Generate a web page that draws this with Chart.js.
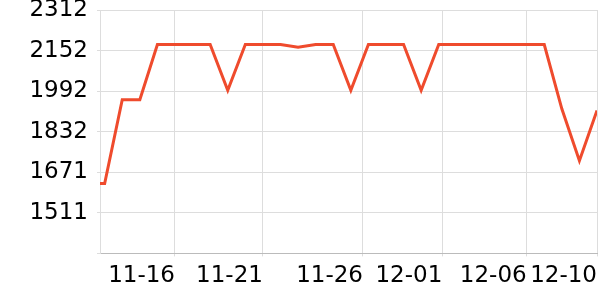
<!DOCTYPE html>
<html>
<head>
<meta charset="utf-8">
<script src="https://cdn.jsdelivr.net/npm/chart.js@4/dist/chart.umd.min.js"></script>
<style>
  html, body { margin: 0; padding: 0; background: #ffffff; }
  #wrap { width: 600px; height: 300px; }
</style>
</head>
<body>
<div id="wrap"><canvas id="c" width="600" height="300"></canvas></div>
<script>
// Dates (one per day) and the series values
const dates = ['11-11','11-12','11-13','11-14','11-15','11-16','11-17','11-18','11-19','11-20',
               '11-21','11-22','11-23','11-24','11-25','11-26','11-27','11-28','11-29','11-30',
               '12-01','12-02','12-03','12-04','12-05','12-06','12-07','12-08','12-09','12-10'];
const values = [1627, 1627, 1958, 1958, 2176, 2176, 2176, 2176, 1995, 2176,
                2176, 2176, 2165, 2176, 2176, 1995, 2176, 2176, 2176, 1995,
                2176, 2176, 2176, 2176, 2176, 2176, 2176, 1922, 1717, 1915];
// X tick labels and their positions (in day-index units)
const xTickLabels = ['11-16', '11-21', '11-26', '12-01', '12-06', '12-10'];
const xTickPositions = [5, 10, 15.69, 20.2, 25, 29];
// Y axis range and tick step
const yMin = 1350.65, yMax = 2312.45, yStep = 160.3;
// Visible x window
const xMin = 0.735, xMax = 29;

const points = values.map((v, i) => ({ x: i, y: v }));
const FONT = { family: 'DejaVu Sans', size: 23 };

new Chart(document.getElementById('c'), {
  type: 'line',
  data: {
    datasets: [{
      label: 'value',
      data: points,
      borderColor: '#ef4b2d',
      backgroundColor: '#ef4b2d',
      borderWidth: 3,
      pointRadius: 0,
      tension: 0,
      fill: false
    }]
  },
  options: {
    responsive: false,
    animation: false,
    layout: { padding: { top: 10, right: 3, bottom: 4, left: 0 } },
    plugins: { legend: { display: false }, tooltip: { enabled: false } },
    scales: {
      x: {
        type: 'linear',
        bounds: 'data',
        min: xMin,
        max: xMax,
        afterBuildTicks: (scale) => { scale.ticks = xTickPositions.map(v => ({ value: v })); },
        afterFit: (scale) => { scale.paddingLeft = 0; scale.paddingRight = 0; },
        grid: { color: '#dddddd', tickLength: 3, drawTicks: true },
        border: { color: '#bbbbbb', width: 1 },
        ticks: {
          autoSkip: false,
          maxRotation: 0,
          minRotation: 0,
          align: 'end',
          padding: 6,
          color: '#000000',
          font: FONT,
          callback: (value) => {
            const k = xTickPositions.indexOf(value);
            return k >= 0 ? xTickLabels[k] : '';
          }
        }
      },
      y: {
        min: yMin,
        max: yMax,
        afterFit: (scale) => { scale.width = 100; scale.paddingTop = 0; scale.paddingBottom = 0; },
        grid: { color: '#dddddd', tickLength: 3 },
        border: { color: '#dddddd', width: 1 },
        ticks: {
          stepSize: yStep,
          padding: 9,
          color: '#000000',
          font: FONT,
          callback: (value, index) => index === 0 ? '' : String(Math.round(value))
        }
      }
    }
  }
});
</script>
</body>
</html>
